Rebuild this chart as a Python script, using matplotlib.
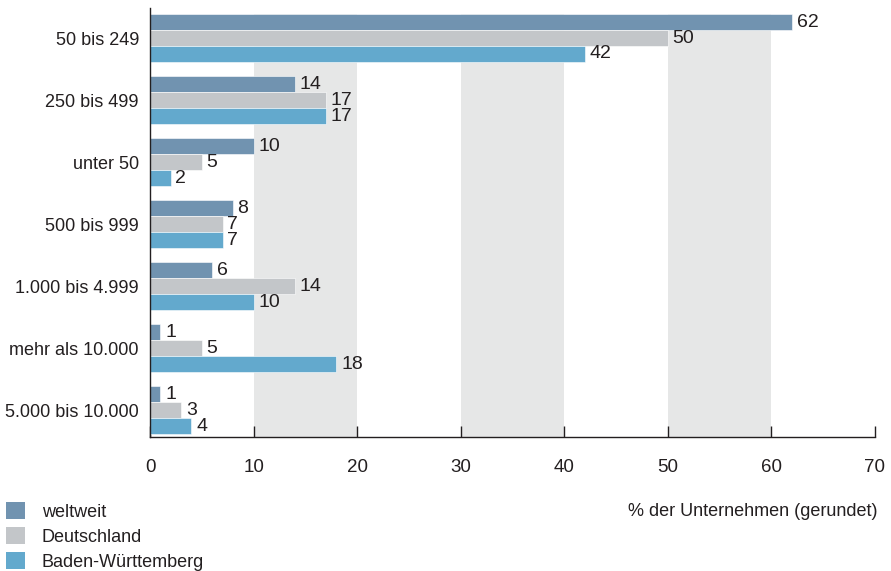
import matplotlib
matplotlib.use("Agg")
import matplotlib.pyplot as plt
import numpy as np
from matplotlib.patches import Patch

# Unternehmensgrößen (Beschäftigte), von oben nach unten
categories = ["50 bis 249", "250 bis 499", "unter 50", "500 bis 999",
              "1.000 bis 4.999", "mehr als 10.000", "5.000 bis 10.000"]
weltweit = [62, 14, 10, 8, 6, 1, 1]
deutschland = [50, 17, 5, 7, 14, 5, 3]
baden_wuerttemberg = [42, 17, 2, 7, 10, 18, 4]

series_names = ["weltweit", "Deutschland", "Baden-Württemberg"]
colors = ["#7193B0", "#C3C6C9", "#63A9CD"]
text_color = "#231F20"

plt.rcParams["font.family"] = ["Liberation Sans", "DejaVu Sans"]
plt.rcParams["font.size"] = 13

fig = plt.figure(figsize=(8.91, 5.71), dpi=100)
ax = fig.add_axes([0.1684, 0.2347, 0.8136, 0.7513])

y = np.arange(len(categories))
pitch = 0.258
height = 0.245

ax.set_xlim(0, 70)
ax.set_ylim(6.435, -0.484)

# graue Hintergrundstreifen
band_top = 0.986
for x0 in (10, 30, 50):
    ax.axvspan(x0, x0 + 10, ymin=0, ymax=band_top, color="#E6E7E7", lw=0, zorder=0)

for k, (vals, col) in enumerate(zip([weltweit, deutschland, baden_wuerttemberg], colors)):
    pos = y + (k - 1) * pitch
    ax.barh(pos, vals, height=height, color=col, edgecolor="white", linewidth=0.4, zorder=2)
    for p, v in zip(pos, vals):
        ax.text(v + 0.45, p, str(v), va="center", ha="left", color=text_color, fontsize=14)

ax.set_yticks(y)
ax.set_yticklabels(categories, color=text_color)
ax.tick_params(axis="y", length=0, pad=8)
ax.set_xticks(np.arange(0, 71, 10))
ax.tick_params(axis="x", direction="in", length=8, width=1, pad=16,
               colors=text_color, labelsize=13.5)
for s in ("top", "right"):
    ax.spines[s].set_visible(False)
for s in ("left", "bottom"):
    ax.spines[s].set_color(text_color)
    ax.spines[s].set_linewidth(1)

fig.text(0.985, 0.105, "% der Unternehmen (gerundet)", ha="right", va="center",
         color=text_color, fontsize=13)

handles = [Patch(facecolor=c, edgecolor="none") for c in colors]
fig.legend(handles, series_names, loc="lower left", bbox_to_anchor=(-0.012, -0.028),
           frameon=False, handlelength=1.1, handleheight=1.1, handletextpad=0.9,
           labelspacing=0.34, labelcolor=text_color, fontsize=13)

fig.savefig("out.png", dpi=100)
